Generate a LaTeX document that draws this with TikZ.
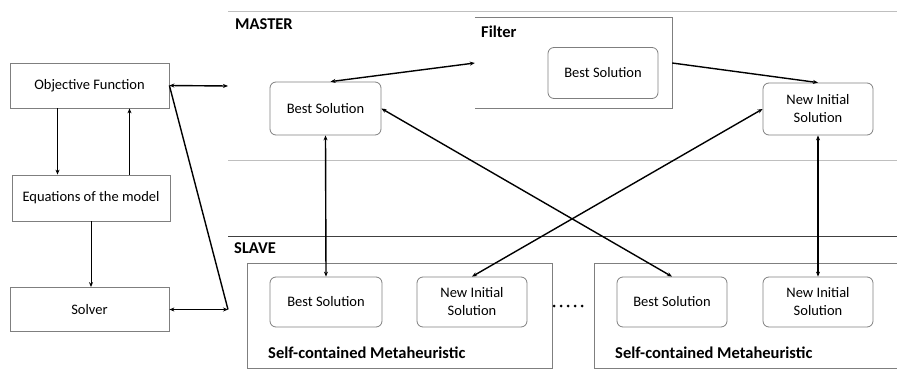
\documentclass[tikz,border=0pt]{standalone}
\usepackage{fontspec}
\setmainfont{Carlito}
\usepackage{tikz}
\usetikzlibrary{
  arrows.meta,
  positioning
}
\definecolor{boxgray}{HTML}{7F7F7F}
\definecolor{rulegray}{HTML}{BFBFBF}
\definecolor{ruledark}{HTML}{404040}
\tikzset{
  model/.style={
    rectangle, draw=boxgray, line width=0.8pt,
    minimum width=159pt, minimum height=45pt,
    font=\fontsize{14.5}{16}\selectfont, text centered
  },
  solution/.style={
    rectangle, draw=boxgray, rounded corners=6pt, line width=0.8pt,
    minimum width=111pt, minimum height=51pt,
    font=\fontsize{14.5}{18}\selectfont, align=center
  },
  region/.style={font=\fontsize{16.5}{18}\selectfont\bfseries, anchor=west, inner sep=0pt},
  arrow/.style={-{Stealth[length=5pt, width=4pt]}, line width=1pt},
  twoway/.style={{Stealth[length=5pt, width=4pt]}-{Stealth[length=5pt, width=4pt]}, line width=1.4pt},
}

\begin{document}
\begin{tikzpicture}[x=1pt, y=-1pt]
\useasboundingbox (0,0) rectangle (897,380);

% Model side
\node[model] (obj) at (89.5,85.5) {Objective Function};
\node[model, minimum width=158pt, minimum height=46pt] (eqn) at (91,198) {Equations of the model};
\node[model, minimum height=44pt] (solver) at (89.5,309.5) {Solver};
\draw[arrow] ([xshift=-32pt]obj.south) -- ([xshift=-32pt]obj.south |- eqn.north);
\draw[arrow, line width=1.4pt] ([xshift=40pt]obj.south |- eqn.north) -- ([xshift=40pt]obj.south);
\draw[arrow] (eqn.south) -- (eqn.south |- solver.north);

\coordinate (tomaster) at (228,86);
\coordinate (bend) at (228,309.5);
\draw[twoway] (obj.east) -- (tomaster);
\draw[line width=1.4pt] (obj.east) -- (bend);
\draw[twoway] (solver.east) -- (bend);

% Levels
\draw[rulegray, line width=1pt] (228,11) -- (897,11);
\draw[rulegray, line width=1pt] (228,160) -- (897,160);
\draw[ruledark, line width=1pt] (228,236) -- (897,236);
\node[region] at (235,24) {MASTER};
\node[region] at (234,248) {SLAVE};

% Master
\node (filter) at (573.5,63) [minimum width=197pt, minimum height=90pt] {};
\draw[boxgray, line width=0.8pt] (filter.north west) -- (filter.north east)
  -- (filter.south east) -- (filter.south west);
\node[region] at (481,32) {Filter};
\node[solution, minimum width=110pt] (fbest) at (603,73) {Best Solution};
\node[solution, minimum height=53pt] (mbest) at (325.5,108.5) {Best Solution};
\node[solution, minimum width=110pt, minimum height=52pt] (mnew) at (818,109) {New Initial\\Solution};

% Slaves
\draw[boxgray, line width=0.8pt] (247,263) rectangle (552,368);
\draw[boxgray, line width=0.8pt] (897,263) -- (594,263) -- (594,368) -- (897,368);
\node[solution, minimum width=112pt, minimum height=50pt] (s1best) at (326,302) {Best Solution};
\node[solution, minimum width=110pt, minimum height=50pt] (s1new) at (472,302) {New Initial\\Solution};
\node[solution, minimum width=110pt, minimum height=50pt] (s2best) at (672,302) {Best Solution};
\node[solution, minimum width=110pt, minimum height=50pt] (s2new) at (818,302) {New Initial\\Solution};
\node[region] at (268,353) {Self-contained Metaheuristic};
\node[region] at (615,353) {Self-contained Metaheuristic};
\draw[line width=3pt, line cap=round, dash pattern=on 0pt off 7pt] (554,306) -- (583,306);

% Exchanges
\draw[twoway] ([xshift=5pt]mbest.north) -- (filter.west);
\draw[arrow, line width=1.4pt] (filter.east) -- (mnew.north);
\draw[twoway] (mbest.south) -- (s1best.north);
\draw[twoway] (mbest.east) -- (s2best.north);
\draw[twoway] (mnew.west) -- (s1new.north);
\draw[twoway] (mnew.south) -- (s2new.north);

\end{tikzpicture}
\end{document}
